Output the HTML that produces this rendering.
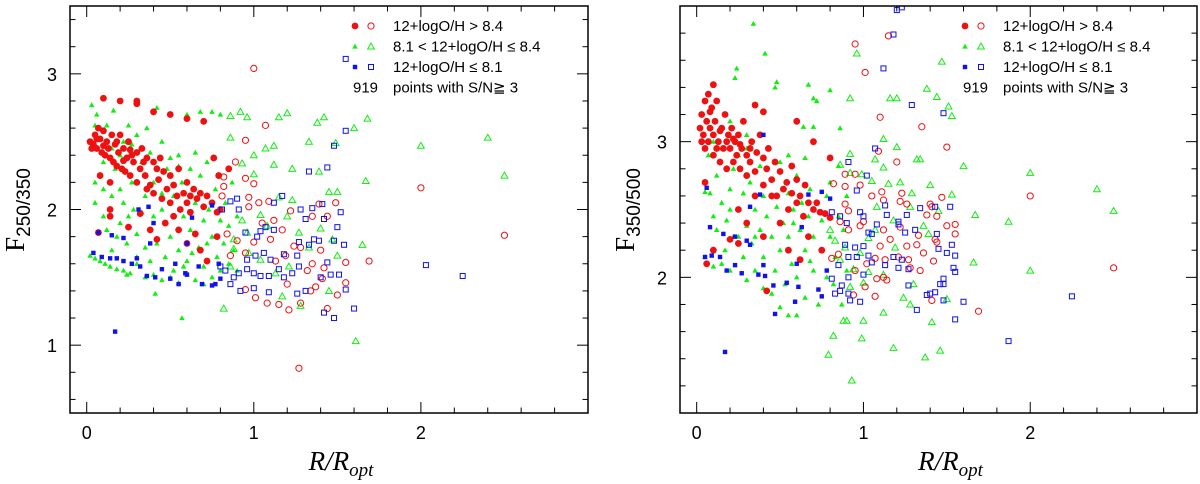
<!DOCTYPE html>
<html><head><meta charset="utf-8"><style>
html,body{margin:0;padding:0;background:#fff;}
svg{display:block;}
text{font-family:"Liberation Sans",sans-serif;fill:#000;}
.t{font-size:18px;}
.lg{font-size:15px;}
</style></head><body>
<svg id="chart" width="1200" height="484" viewBox="0 0 1200 484"></svg>
<script>
// ---------- LEFT PANEL DATA: F250/350 vs R/Ropt ----------
const leftRedFilled=[[0.02,2.5],[0.04,2.48],[0.05,2.55],[0.06,2.45],[0.07,2.6],[0.08,2.52],[0.09,2.42],[0.1,2.58],[0.11,2.4],[0.12,2.5],[0.13,2.45],[0.14,2.38],[0.15,2.55],[0.16,2.35],[0.17,2.48],[0.18,2.32],[0.19,2.42],[0.2,2.55],[0.21,2.3],[0.22,2.45],[0.23,2.28],[0.24,2.38],[0.25,2.5],[0.26,2.25],[0.27,2.4],[0.28,2.35],[0.3,2.42],[0.3,2.2],[0.32,2.3],[0.33,2.45],[0.35,2.25],[0.36,2.38],[0.38,2.18],[0.4,2.35],[0.4,2.12],[0.42,2.3],[0.43,2.22],[0.45,2.08],[0.46,2.28],[0.48,2.15],[0.5,2.25],[0.5,2.05],[0.52,2.18],[0.54,2.1],[0.55,2.3],[0.56,2.0],[0.58,2.12],[0.6,2.2],[0.6,2.05],[0.62,1.98],[0.64,2.15],[0.66,2.08],[0.68,2.12],[0.7,2.02],[0.72,2.1],[0.75,2.05],[0.78,1.98],[0.8,2.0],[0.79,2.25],[0.76,2.38],[0.1,2.82],[0.2,2.8],[0.3,2.8],[0.3,2.78],[0.4,2.72],[0.5,2.7],[0.6,2.67],[0.7,2.65],[0.14,2.2],[0.08,2.25],[0.14,1.95],[0.14,2.0],[0.07,1.83],[0.25,1.87],[0.38,1.85],[0.42,1.78],[0.55,1.85],[0.6,1.75],[0.68,1.7],[0.72,1.62],[0.78,1.8],[0.85,2.3],[0.32,1.97],[0.47,1.9],[0.52,1.95],[0.65,1.82],[0.03,2.45],[0.06,2.52],[0.1,2.47],[0.18,2.5],[0.22,2.36],[0.26,2.44],[0.34,2.35],[0.44,2.38],[0.36,2.15],[0.62,2.1]];
const leftRedOpen=[[1.0,3.04],[1.07,2.62],[0.95,2.51],[0.89,2.35],[0.95,2.23],[1.0,2.19],[0.82,2.24],[0.82,2.17],[0.81,2.1],[0.97,2.09],[1.03,2.05],[1.09,2.06],[0.97,2.02],[1.22,1.99],[1.39,2.04],[1.49,2.05],[1.44,1.95],[1.35,1.95],[0.84,1.82],[0.9,1.77],[1.0,1.76],[1.1,1.78],[1.17,1.85],[1.24,1.73],[1.28,1.72],[1.4,1.7],[1.55,1.61],[1.69,1.62],[1.35,1.6],[1.42,1.57],[1.19,1.66],[1.13,1.62],[0.86,1.66],[0.95,1.68],[1.32,1.55],[1.41,1.49],[1.37,1.43],[1.34,1.4],[1.55,1.46],[1.5,1.37],[1.01,1.35],[1.08,1.31],[1.15,1.3],[1.21,1.26],[1.28,1.31],[1.44,1.27],[0.95,1.41],[1.27,0.83],[1.2,1.45],[2.0,2.16],[2.5,1.81],[1.12,1.92],[1.05,1.9]];
const leftGreenFilled=[[0.02,1.66],[0.05,1.64],[0.08,1.62],[0.11,1.6],[0.14,1.58],[0.18,1.56],[0.22,1.55],[0.26,1.53],[0.3,1.6],[0.35,1.5],[0.4,1.52],[0.45,1.48],[0.5,1.5],[0.55,1.46],[0.6,1.52],[0.65,1.48],[0.7,1.45],[0.75,1.5],[0.05,2.05],[0.05,2.2],[0.05,2.62],[0.06,2.7],[0.1,2.35],[0.1,2.15],[0.1,1.95],[0.12,1.85],[0.12,2.62],[0.15,2.1],[0.17,2.3],[0.2,2.15],[0.2,1.9],[0.22,2.5],[0.22,2.05],[0.24,1.75],[0.25,2.62],[0.27,2.2],[0.28,2.0],[0.3,1.82],[0.3,2.55],[0.33,2.35],[0.33,1.98],[0.35,2.1],[0.35,1.72],[0.36,2.6],[0.38,2.42],[0.4,1.95],[0.4,2.2],[0.42,1.75],[0.45,2.5],[0.45,2.0],[0.47,1.65],[0.48,2.3],[0.5,1.8],[0.5,2.38],[0.52,2.1],[0.55,2.4],[0.55,1.7],[0.57,2.2],[0.58,1.95],[0.6,1.62],[0.62,2.3],[0.62,1.85],[0.65,2.05],[0.65,2.42],[0.67,1.72],[0.68,2.25],[0.7,1.92],[0.7,1.58],[0.72,2.35],[0.73,2.0],[0.75,1.8],[0.77,2.15],[0.78,1.65],[0.8,1.92],[0.8,2.7],[0.82,1.75],[0.83,2.05],[0.85,1.6],[0.85,1.88],[0.87,2.2],[0.88,1.7],[0.9,1.95],[0.9,1.55],[0.75,2.72],[0.68,2.72],[0.6,2.7],[0.03,2.77],[0.16,2.73],[0.42,2.75],[0.55,2.32],[0.2,2.4],[0.27,2.48],[0.15,2.45],[0.08,2.52],[0.41,1.38],[0.57,1.2],[0.24,1.52],[0.45,2.12],[0.15,1.7],[0.3,1.65],[0.58,1.58],[0.63,1.68],[0.72,1.75],[0.8,1.55],[0.38,1.62],[0.18,1.8],[0.25,1.95],[0.52,1.55]];
const leftGreenOpen=[[1.12,2.47],[1.12,2.33],[1.07,2.45],[1.2,2.71],[1.15,2.68],[1.38,2.64],[1.42,2.68],[1.6,2.6],[1.68,2.67],[1.33,2.5],[1.23,2.3],[1.39,2.28],[1.45,2.13],[1.5,2.13],[1.49,2.49],[1.67,2.21],[1.0,2.4],[0.92,2.72],[0.86,2.69],[0.96,2.68],[0.86,2.53],[0.93,2.34],[1.0,2.26],[1.15,2.09],[1.23,2.07],[1.04,1.96],[1.2,1.95],[1.27,1.83],[1.4,1.86],[1.47,1.78],[1.5,1.66],[1.65,1.74],[0.96,1.83],[0.88,1.71],[0.97,1.68],[1.04,1.63],[1.13,1.53],[1.21,1.58],[1.17,1.36],[1.28,1.29],[1.45,1.4],[0.82,1.27],[1.61,1.03],[0.88,1.78],[0.86,1.58],[2.4,2.53],[2.5,2.25],[2.0,2.47],[1.08,1.88],[0.93,1.92],[1.33,1.72]];
const leftBlueFilled=[[0.04,1.68],[0.09,1.65],[0.14,1.64],[0.18,1.64],[0.22,1.62],[0.27,1.6],[0.3,1.64],[0.32,1.58],[0.36,1.51],[0.41,1.5],[0.45,1.56],[0.5,1.49],[0.53,1.6],[0.55,1.45],[0.59,1.53],[0.6,1.52],[0.67,1.58],[0.69,1.45],[0.75,1.44],[0.77,1.45],[0.79,1.6],[0.8,1.49],[0.07,1.83],[0.15,1.81],[0.22,1.79],[0.31,2.0],[0.37,2.02],[0.4,1.9],[0.38,1.75],[0.6,1.75],[0.63,1.94],[0.17,1.1],[0.75,2.03]];
const leftBlueOpen=[[0.86,2.06],[0.91,2.0],[0.81,2.0],[0.9,2.08],[1.12,2.05],[1.17,2.1],[1.28,2.0],[1.31,1.93],[1.35,2.01],[1.41,2.04],[1.42,1.93],[1.33,2.28],[1.44,2.31],[1.48,2.47],[1.55,2.58],[1.55,3.11],[1.52,1.98],[1.5,1.87],[1.54,1.74],[1.48,1.77],[1.39,1.77],[1.36,1.78],[1.33,1.74],[1.27,1.76],[1.26,1.66],[1.18,1.67],[1.12,1.85],[1.07,1.87],[1.04,1.84],[1.02,1.8],[0.95,1.83],[1.06,1.68],[1.01,1.66],[0.96,1.63],[1.1,1.63],[1.15,1.56],[1.18,1.5],[1.23,1.53],[1.27,1.58],[1.09,1.51],[1.04,1.51],[1.0,1.53],[0.96,1.56],[0.91,1.53],[0.88,1.5],[0.86,1.45],[0.92,1.4],[1.0,1.42],[1.09,1.39],[1.26,1.38],[1.31,1.4],[1.42,1.24],[1.48,1.2],[1.6,1.27],[1.55,1.41],[1.44,1.61],[1.46,1.52],[1.51,1.52],[1.4,1.5],[0.83,1.55],[0.8,1.58],[2.03,1.59],[2.25,1.51]];

// ---------- RIGHT PANEL DATA: F350/500 vs R/Ropt ----------
const rightRedFilled=[[0.02,3.1],[0.03,3.2],[0.04,3.05],[0.05,3.3],[0.05,2.95],[0.06,3.15],[0.07,3.35],[0.07,3.0],[0.08,3.1],[0.09,3.25],[0.1,3.05],[0.1,2.9],[0.11,3.15],[0.12,3.3],[0.13,3.0],[0.14,2.85],[0.15,3.1],[0.16,2.95],[0.17,3.2],[0.18,2.8],[0.19,3.05],[0.2,2.95],[0.21,3.1],[0.22,2.85],[0.23,3.0],[0.24,2.9],[0.25,3.05],[0.26,2.8],[0.27,2.95],[0.28,3.15],[0.3,2.9],[0.3,2.75],[0.32,2.85],[0.33,3.0],[0.35,2.78],[0.36,2.92],[0.38,3.05],[0.4,2.88],[0.4,2.68],[0.42,2.8],[0.43,2.95],[0.45,2.72],[0.47,2.85],[0.48,2.6],[0.5,2.78],[0.52,2.65],[0.54,2.7],[0.55,2.5],[0.57,2.62],[0.6,2.72],[0.6,2.55],[0.62,2.6],[0.64,2.45],[0.65,2.68],[0.67,2.55],[0.7,2.5],[0.72,2.55],[0.74,2.48],[0.77,2.47],[0.8,2.44],[0.8,2.88],[0.7,3.0],[0.6,3.15],[0.35,3.27],[0.1,3.42],[0.4,3.22],[0.05,2.7],[0.1,2.2],[0.06,2.1],[0.25,2.5],[0.3,2.4],[0.35,2.6],[0.4,2.3],[0.42,1.9],[0.5,2.4],[0.55,2.2],[0.62,2.13],[0.67,2.3],[0.75,2.2],[0.2,2.28],[0.25,2.25],[0.45,2.6],[0.57,2.82],[0.08,3.22],[0.14,3.08],[0.18,3.0],[0.22,3.02],[0.26,2.98],[0.32,2.95],[0.03,3.0],[0.12,2.95]];
const rightRedOpen=[[0.95,3.72],[1.15,3.78],[1.01,3.51],[1.1,3.18],[1.35,3.11],[1.5,2.96],[1.09,2.93],[1.2,2.85],[0.89,2.76],[0.82,2.69],[0.95,2.76],[0.89,2.67],[0.98,2.68],[1.05,2.6],[1.11,2.63],[1.12,2.57],[1.23,2.62],[1.22,2.56],[1.26,2.54],[1.4,2.54],[1.41,2.52],[1.47,2.59],[1.44,2.45],[1.5,2.38],[1.55,2.39],[1.55,2.32],[1.38,2.46],[0.89,2.54],[0.91,2.49],[0.86,2.41],[0.91,2.35],[0.98,2.38],[1.0,2.41],[1.12,2.35],[1.22,2.37],[1.33,2.31],[1.16,2.28],[1.1,2.23],[1.26,2.23],[1.32,2.24],[1.43,2.28],[1.44,2.26],[1.36,2.18],[1.42,2.12],[1.13,2.13],[1.21,2.15],[1.27,2.13],[1.28,2.07],[1.34,2.05],[1.02,2.1],[1.07,2.14],[0.81,2.14],[0.85,2.17],[0.95,2.05],[1.12,2.0],[1.14,1.98],[1.08,1.99],[1.01,1.93],[1.07,1.86],[0.94,1.87],[1.41,1.83],[1.69,1.75],[2.0,2.6],[2.5,2.07]];
const rightGreenFilled=[[0.05,2.63],[0.07,2.9],[0.08,2.62],[0.1,2.45],[0.12,2.35],[0.12,2.75],[0.15,2.55],[0.15,2.95],[0.17,2.2],[0.18,2.42],[0.2,2.65],[0.22,2.3],[0.22,2.8],[0.25,2.5],[0.25,2.9],[0.28,2.15],[0.28,2.62],[0.3,2.38],[0.3,2.95],[0.32,2.7],[0.33,2.25],[0.35,2.5],[0.35,2.05],[0.38,2.82],[0.38,2.35],[0.4,2.6],[0.4,2.15],[0.42,2.45],[0.43,2.95],[0.45,2.3],[0.45,2.72],[0.47,2.05],[0.48,2.52],[0.5,2.85],[0.5,2.2],[0.52,2.4],[0.53,1.95],[0.55,2.62],[0.55,2.3],[0.57,2.1],[0.58,2.5],[0.6,2.75],[0.6,2.0],[0.62,2.35],[0.63,2.55],[0.65,1.85],[0.65,2.2],[0.67,2.45],[0.68,2.65],[0.7,2.05],[0.7,2.3],[0.72,2.55],[0.73,1.8],[0.75,2.2],[0.75,2.42],[0.78,2.6],[0.78,2.0],[0.8,2.3],[0.8,2.7],[0.82,1.95],[0.83,2.15],[0.85,2.45],[0.85,2.82],[0.87,1.8],[0.88,2.35],[0.9,2.05],[0.9,2.6],[0.45,1.88],[0.55,1.72],[0.6,1.72],[0.5,1.78],[0.4,1.92],[0.3,1.98],[0.2,2.05],[0.1,2.08],[0.05,2.15],[0.25,2.3],[0.15,2.1],[0.34,3.87],[0.41,3.65],[0.24,3.54],[0.23,3.47],[0.48,3.44],[0.47,3.4],[0.67,3.42],[0.7,3.32],[0.72,3.3],[0.8,3.38],[0.86,3.1],[0.64,3.11],[0.7,3.11],[0.1,3.0],[0.2,3.15],[0.3,3.05],[0.55,2.9],[0.65,2.88],[0.58,2.4],[0.68,2.12],[0.35,2.3],[0.2,2.5]];
const rightGreenOpen=[[0.96,3.65],[1.47,3.59],[0.92,3.32],[1.16,3.32],[1.2,3.32],[1.38,3.39],[1.44,3.33],[1.51,3.26],[1.53,3.19],[1.12,3.02],[1.2,2.96],[1.32,2.87],[1.34,2.87],[1.6,2.82],[0.92,2.91],[1.07,2.87],[1.12,2.81],[0.86,2.83],[0.92,2.77],[0.99,2.76],[1.05,2.71],[1.15,2.69],[1.22,2.7],[1.29,2.62],[1.4,2.68],[1.53,2.61],[1.67,2.46],[1.45,2.49],[1.36,2.38],[1.39,2.32],[1.19,2.22],[1.07,2.35],[1.03,2.29],[0.98,2.18],[0.89,2.22],[0.83,2.27],[0.8,2.35],[0.86,2.13],[0.94,2.06],[1.03,2.04],[1.12,2.02],[1.3,1.95],[1.24,1.85],[1.12,1.74],[1.28,1.8],[1.41,1.67],[1.5,1.84],[1.66,2.11],[2.0,2.77],[2.4,2.65],[2.5,2.49],[1.87,2.41],[2.0,2.05],[0.82,1.57],[0.99,1.55],[1.18,1.48],[1.37,1.41],[1.46,1.46],[0.93,1.24],[0.79,1.43],[1.0,1.68],[0.88,1.68],[0.9,1.68],[0.92,1.93],[1.0,1.96],[1.18,2.42],[1.28,2.52],[1.08,2.52]];
const rightBlueFilled=[[0.06,2.66],[0.08,2.37],[0.05,2.15],[0.09,2.16],[0.14,2.15],[0.16,2.32],[0.17,1.45],[0.18,2.05],[0.23,2.3],[0.23,2.09],[0.27,2.03],[0.3,2.27],[0.32,2.24],[0.32,2.52],[0.37,2.02],[0.38,2.61],[0.4,2.09],[0.41,2.01],[0.4,3.05],[0.46,1.94],[0.47,1.73],[0.54,1.96],[0.59,1.82],[0.6,2.1],[0.61,1.93],[0.63,2.37],[0.67,2.61],[0.73,1.91],[0.75,1.86],[0.75,2.63],[0.78,2.05],[0.8,2.58]];
const rightBlueOpen=[[1.2,3.97],[1.23,3.99],[1.18,3.79],[1.12,3.54],[1.29,3.27],[1.48,3.21],[1.07,2.95],[0.91,2.85],[1.02,2.75],[0.96,2.64],[0.81,2.48],[0.86,2.45],[0.98,2.48],[1.0,2.45],[0.9,2.4],[1.03,2.33],[1.05,2.32],[1.08,2.39],[1.13,2.53],[1.14,2.46],[1.21,2.41],[1.21,2.39],[1.26,2.46],[1.25,2.33],[1.31,2.35],[1.34,2.51],[1.43,2.52],[1.52,2.52],[1.44,2.32],[1.53,2.24],[1.45,2.21],[1.5,2.18],[1.55,2.16],[1.54,2.07],[1.55,2.04],[1.48,1.99],[1.46,1.95],[1.48,1.95],[1.27,1.94],[1.18,2.15],[1.23,2.13],[1.27,2.06],[1.21,2.07],[1.13,2.09],[1.05,2.11],[1.0,2.23],[0.95,2.22],[0.96,2.15],[0.91,2.15],[0.85,2.09],[0.81,1.99],[0.91,2.0],[1.0,2.02],[0.87,1.94],[0.86,1.9],[0.83,1.88],[0.92,1.83],[0.98,1.82],[0.91,1.88],[1.32,1.76],[1.38,1.87],[1.4,1.88],[1.43,1.89],[1.48,1.83],[1.6,1.82],[1.55,1.69],[1.87,1.53],[2.25,1.86],[0.89,2.24],[1.03,2.16]];

const legendLabels=["12+logO/H > 8.4","8.1 < 12+logO/H \u2264  8.4","12+logO/H \u2264  8.1"];
const countLabel="919";
const xTickLabels=["0","1","2"];
const leftYTickLabels=["1","2","3"];
const rightYTickLabels=["2","3"];

const NS="http://www.w3.org/2000/svg";
const svg=document.getElementById('chart');
function mk(tag,attrs,parent){const e=document.createElementNS(NS,tag);for(const k in attrs)e.setAttribute(k,attrs[k]);(parent||svg).appendChild(e);return e;}
const RED="#ee1111",GREEN="#11ee11",BLUE="#1111ee";

function marker(g,kind,filled,color,px,py,name){
  let e;
  if(kind==='c'){e=mk('circle',{cx:px,cy:py,r:filled?3.4:3.1},g);}
  else if(kind==='t'){const s=filled?2.8:3.4;e=mk('polygon',{points:`${px},${py-s} ${px-s},${py+s*0.75} ${px+s},${py+s*0.75}`},g);}
  else {const s=filled?2.2:2.5;e=mk('rect',{x:px-s,y:py-s,width:2*s,height:2*s},g);}
  if(filled){e.setAttribute('fill',color);}else{e.setAttribute('fill','none');e.setAttribute('stroke',color);e.setAttribute('stroke-width','1');}
  
  
}

function panel(p){
  const g=mk('g',{});
  
  
  const X=v=>p.x0+(v-p.xmin)/(p.xmax-p.xmin)*(p.x1-p.x0);
  const Y=v=>p.y1-(v-p.ymin)/(p.ymax-p.ymin)*(p.y1-p.y0);
  const cid='clip-'+p.name;
  const cp=mk('clipPath',{id:cid},g);mk('rect',{x:p.x0,y:p.y0,width:p.x1-p.x0,height:p.y1-p.y0},cp);
  const pts=mk('g',{'clip-path':`url(#${cid})`},g);
  
  
  const series=[[p.gF,'t',true,GREEN,'green-filled-point'],[p.rF,'c',true,RED,'red-filled-point'],[p.bF,'s',true,BLUE,'blue-filled-point'],[p.gO,'t',false,GREEN,'green-open-point'],[p.rO,'c',false,RED,'red-open-point'],[p.bO,'s',false,BLUE,'blue-open-point']];
  series.forEach(s=>s[0].forEach(d=>marker(pts,s[1],s[2],s[3],X(d[0]),Y(d[1]),s[4])));
  const fr=mk('rect',{x:p.x0,y:p.y0,width:p.x1-p.x0,height:p.y1-p.y0,fill:'none',stroke:'#000','stroke-width':1.5},g);
  
  
  const tk=mk('g',{stroke:'#000','stroke-width':1},g);
  
  
  for(let i=0;i<=15;i++){const v=Math.round(i*0.2*10)/10; if(v>p.xmax+1e-6)break; const x=X(v); const L=(Math.abs(v-Math.round(v))<1e-6)?11:5.5;
    mk('line',{x1:x,y1:p.y1,x2:x,y2:p.y1-L},tk);mk('line',{x1:x,y1:p.y0,x2:x,y2:p.y0+L},tk);}
  for(let v=Math.ceil(p.ymin*5)/5;v<=p.ymax+1e-6;v=Math.round((v+0.2)*10)/10){const y=Y(v);const L=(Math.abs(v-Math.round(v))<1e-6)?11:5.5;
    mk('line',{x1:p.x0,y1:y,x2:p.x0+L,y2:y},tk);mk('line',{x1:p.x1,y1:y,x2:p.x1-L,y2:y},tk);}
  xTickLabels.forEach(s=>{const t=mk('text',{x:X(+s),y:p.y1+26,'text-anchor':'middle',class:'t'},g);t.textContent=s;
    
    });
  p.yt.forEach(s=>{const t=mk('text',{x:p.x0-18,y:Y(+s)+7,'text-anchor':'middle',class:'t'},g);t.textContent=s;
    
    });
  const xt=mk('text',{x:(p.x0+p.x1)/2+12,y:470,'text-anchor':'middle',style:'font-family:"Liberation Serif",serif;font-style:italic;font-size:27px;'},g);
  xt.innerHTML='R/R<tspan style="font-size:19px" dy="6">opt</tspan>';
  
  
  const yt=mk('text',{transform:`translate(${p.x0-46},210) rotate(-90)`,'text-anchor':'middle',style:'font-family:"Liberation Serif",serif;font-size:27px;'},g);
  yt.innerHTML='F<tspan style="font-size:19px;font-family:\'Liberation Sans\',sans-serif" dy="6">'+p.ysub+'</tspan>';
  
  
  const lg=mk('g',{},g);
  
  
  const kinds=[['c',RED],['t',GREEN],['s',BLUE]];
  kinds.forEach((k,i)=>{const y=p.ly+i*20.5;
    marker(lg,k[0],true,k[1],p.lx,y,'legend-filled-marker');
    marker(lg,k[0],false,k[1],p.lx+16,y,'legend-open-marker');
    const t=mk('text',{x:p.lx+38,y:y+5,class:'lg'},lg);t.textContent=legendLabels[i];
    
    });
  const ct=mk('text',{x:p.lx-2,y:p.ly+3*20.5+5,class:'lg'},lg);ct.textContent=countLabel;
  
  
  const ct2=mk('text',{x:p.lx+38,y:p.ly+3*20.5+5,class:'lg'},lg);ct2.textContent='points with S/N\u2267 3';
  
  
}
panel({name:'left-panel',x0:70,x1:588,y0:6,y1:413,xmin:-0.1,xmax:3.0,ymin:0.5,ymax:3.5,rF:leftRedFilled,rO:leftRedOpen,gF:leftGreenFilled,gO:leftGreenOpen,bF:leftBlueFilled,bO:leftBlueOpen,yt:leftYTickLabels,ysub:'250/350',lx:355,ly:26});
panel({name:'right-panel',x0:680,x1:1197,y0:6,y1:413,xmin:-0.1,xmax:3.0,ymin:1.0,ymax:4.0,rF:rightRedFilled,rO:rightRedOpen,gF:rightGreenFilled,gO:rightGreenOpen,bF:rightBlueFilled,bO:rightBlueOpen,yt:rightYTickLabels,ysub:'350/500',lx:965,ly:26});
</script>
</body></html>
